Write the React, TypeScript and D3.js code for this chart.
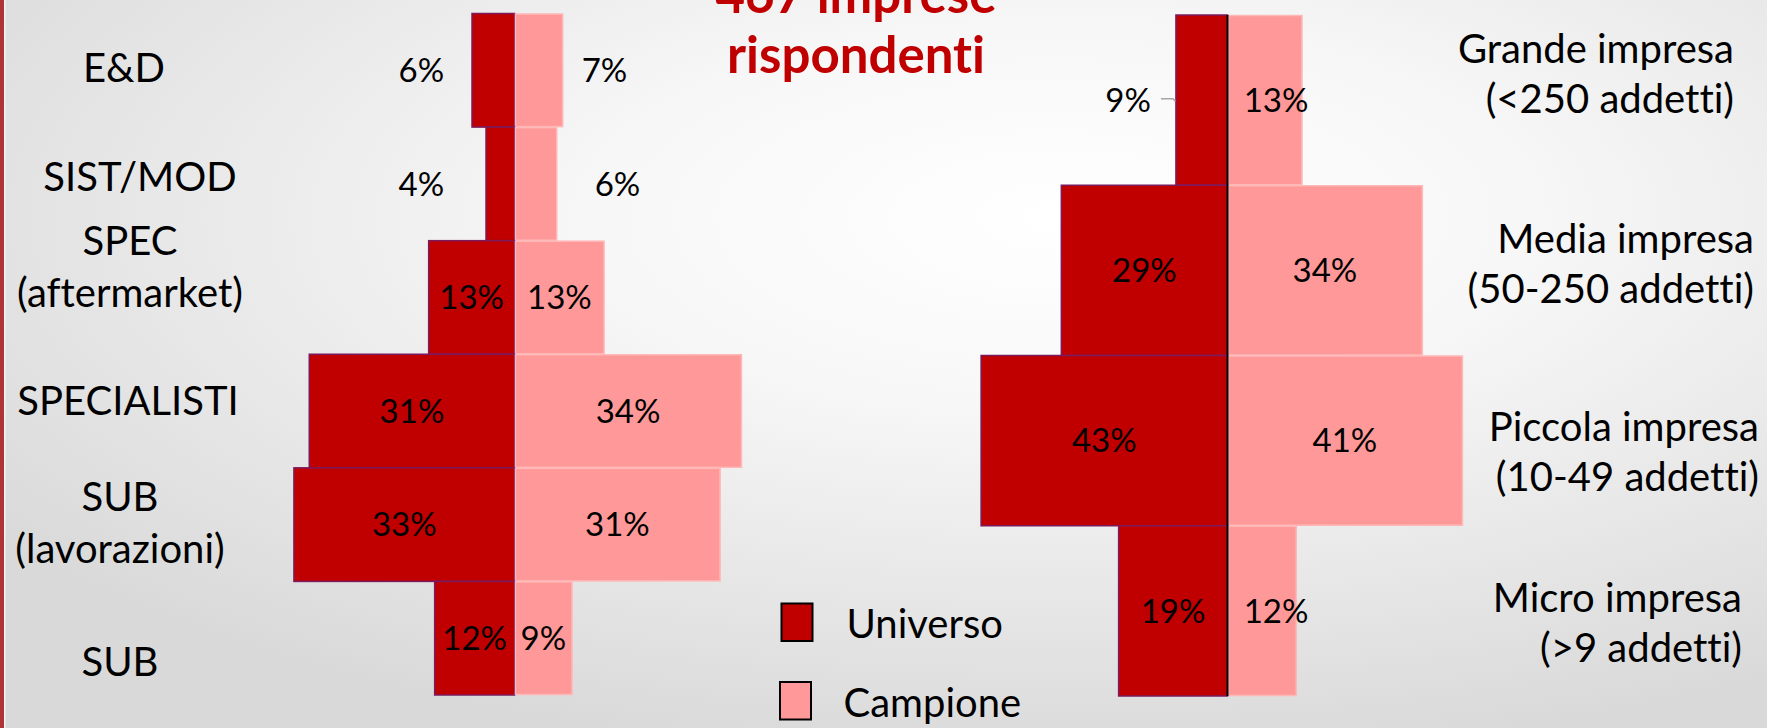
import React from "react";
import * as d3 from "d3";

// ---------- data ----------
const leftCategories = ["E&D", "SIST/MOD", "SPEC (aftermarket)", "SPECIALISTI", "SUB (lavorazioni)", "SUB"];
const leftLabelLines = [["E&D"], ["SIST/MOD"], ["SPEC", "(aftermarket)"], ["SPECIALISTI"], ["SUB", "(lavorazioni)"], ["SUB"]];
const leftUniverso = [6.4, 4.3, 12.9, 30.8, 33.1, 12.0];
const leftCampione = [7.2, 6.3, 13.4, 34.0, 30.8, 8.6];

const rightCategories = ["Grande", "Media", "Piccola", "Micro"];
const rightLabelLines = [
  ["Grande impresa", "(<250 addetti)"],
  ["Media impresa", "(50-250 addetti)"],
  ["Piccola impresa", "(10-49 addetti)"],
  ["Micro impresa", "(>9 addetti)"],
];
const rightUniverso = [9, 29, 43, 19];
const rightCampione = [13, 34, 41, 12];

const seriesNames = ["Universo", "Campione"];
const titleLines = ["467 imprese", "rispondenti"];

// ---------- style / layout ----------
const W = 1767;
const H = 728;
const DARK = "#C00000";
const DARK_STROKE = "#7B1A5C";
const PINK = "#FF9999";
const PINK_STROKE = "#FFB8B8";
const FONT = "Lato, 'Open Sans', sans-serif";
const VAL_FS = 33;
const CAT_FS = 40;

const fmt = (v: number) => `${d3.format(".0f")(v)}%`;

// label layout (offsets from row centre)
const leftCatLayout = [
  { x: 124, dy: [11.5] },
  { x: 140, dy: [7.5] },
  { x: 130, dy: [-42.5, 9.5] },
  { x: 128, dy: [4] },
  { x: 120, dy: [-14, 38] },
  { x: 120, dy: [38] },
];
const rightCatLayout = [
  { x: 1734, dy: [-37, 13] },
  { x: 1754, dy: [-17.5, 32.5] },
  { x: 1759, dy: [0, 50] },
  { x: 1742, dy: [1, 51] },
];

export default function App() {
  // left pyramid scales
  const lCenter = 514.7;
  const xL = d3.scaleLinear().domain([0, 40]).range([0, 266.8]);
  const yL = d3.scaleBand().domain(leftCategories).range([13.5, 695]).padding(0);

  // right pyramid scales
  const rCenter = 1227.5;
  const xR = d3.scaleLinear().domain([0, 50]).range([0, 286.5]);
  const yR = d3.scaleBand().domain(rightCategories).range([15, 696]).padding(0);

  const base = (c: number) => c + VAL_FS * 0.358;

  return (
    <svg
      width={W}
      height={H}
      viewBox={`0 0 ${W} ${H}`}
      style={{ position: "absolute", left: 0, top: 0, display: "block", fontVariantLigatures: "none" }}
      fontFamily={FONT}
    >
      <defs>
        <radialGradient id="bg" cx="0.6" cy="0.3" r="0.75" fx="0.6" fy="0.3">
          <stop offset="0" stopColor="#ffffff" />
          <stop offset="0.35" stopColor="#f7f7f7" />
          <stop offset="1" stopColor="#d9d9d9" />
        </radialGradient>
      </defs>
      <rect x={0} y={0} width={W} height={H} fill="url(#bg)" />
      <rect x={0} y={0} width={4} height={H} fill="#AE3438" />
      <rect x={4} y={0} width={1.5} height={H} fill="#f4f4f4" />

      {/* title (partly cut by the top edge, as in the original slide) */}
      <g fill={DARK} fontWeight={700} fontSize={51} textAnchor="middle">
        {titleLines.map((t, i) => (
          <text key={t} x={856} y={12.7 + i * 60.3}>
            {t}
          </text>
        ))}
      </g>

      {/* left pyramid */}
      <g>
        {leftCategories.map((c, i) => {
          const y0 = yL(c)!;
          const h = yL.bandwidth();
          return (
            <g key={c}>
              <rect
                x={lCenter - xL(leftUniverso[i])}
                y={y0}
                width={xL(leftUniverso[i])}
                height={h}
                fill={DARK}
                stroke={DARK_STROKE}
                strokeWidth={1.5}
              />
              <rect
                x={lCenter + 0.8}
                y={y0 + 0.5}
                width={xL(leftCampione[i]) - 0.8}
                height={h - 1}
                fill={PINK}
                stroke={PINK_STROKE}
                strokeWidth={1.5}
              />
            </g>
          );
        })}
        {leftCategories.map((c, i) => {
          const cy = yL(c)! + yL.bandwidth() / 2;
          const wu = xL(leftUniverso[i]);
          const wc = xL(leftCampione[i]);
          const uOut = wu < 60;
          const cOut = wc < 50;
          const cOutX = [lCenter + 67, lCenter + 80];
          return (
            <g key={c + "lbl"} fontSize={VAL_FS} fill="#000">
              <text
                x={uOut ? lCenter - 70.5 : lCenter - wu / 2}
                y={base(cy)}
                textAnchor={uOut ? "end" : "middle"}
              >
                {fmt(leftUniverso[i])}
              </text>
              <text
                x={cOut ? cOutX[i] : lCenter + wc / 2}
                y={base(cy)}
                textAnchor={cOut ? "start" : "middle"}
              >
                {fmt(leftCampione[i])}
              </text>
            </g>
          );
        })}
        {leftCategories.map((c, i) => {
          const cy = yL(c)! + yL.bandwidth() / 2;
          const lay = leftCatLayout[i];
          return (
            <g key={c + "cat"} fontSize={CAT_FS} fill="#000" textAnchor="middle">
              {leftLabelLines[i].map((l, j) => (
                <text key={l} x={lay.x} y={cy + lay.dy[j]}>
                  {l}
                </text>
              ))}
            </g>
          );
        })}
      </g>

      {/* right pyramid */}
      <g>
        {rightCategories.map((c, i) => {
          const y0 = yR(c)!;
          const h = yR.bandwidth();
          return (
            <g key={c}>
              <rect
                x={rCenter - xR(rightUniverso[i])}
                y={y0}
                width={xR(rightUniverso[i])}
                height={h}
                fill={DARK}
                stroke={DARK_STROKE}
                strokeWidth={1.5}
              />
              <rect
                x={rCenter + 1}
                y={y0 + 0.5}
                width={xR(rightCampione[i]) - 1}
                height={h - 1}
                fill={PINK}
                stroke={PINK_STROKE}
                strokeWidth={1.5}
              />
            </g>
          );
        })}
        <line
          x1={rCenter}
          x2={rCenter}
          y1={yR.range()[0]}
          y2={yR.range()[1]}
          stroke="#000"
          strokeWidth={2}
        />
        {rightCategories.map((c, i) => {
          const cy = yR(c)! + yR.bandwidth() / 2;
          const wu = xR(rightUniverso[i]);
          const wc = xR(rightCampione[i]);
          const uOut = wu < 60;
          const cx = Math.max(rCenter + wc / 2, rCenter + 48.5);
          return (
            <g key={c + "lbl"} fontSize={VAL_FS} fill="#000">
              {uOut ? (
                <>
                  <text x={rCenter - wu - 25} y={base(cy)} textAnchor="end">
                    {fmt(rightUniverso[i])}
                  </text>
                  <path
                    d={`M${rCenter - wu - 15},${cy - 1.5} L${rCenter - wu - 3},${cy - 1.5} L${rCenter - wu - 0.5},${cy + 1}`}
                    fill="none"
                    stroke="#A6A6A6"
                    strokeWidth={1.5}
                  />
                </>
              ) : (
                <text x={rCenter - wu / 2} y={base(cy)} textAnchor="middle">
                  {fmt(rightUniverso[i])}
                </text>
              )}
              <text x={cx} y={base(cy)} textAnchor="middle">
                {fmt(rightCampione[i])}
              </text>
            </g>
          );
        })}
        {rightCategories.map((c, i) => {
          const cy = yR(c)! + yR.bandwidth() / 2;
          const lay = rightCatLayout[i];
          return (
            <g key={c + "cat"} fontSize={CAT_FS} fill="#000" textAnchor="end">
              {rightLabelLines[i].map((l, j) => (
                <text key={l} x={lay.x} y={cy + lay.dy[j]}>
                  {l}
                </text>
              ))}
            </g>
          );
        })}
      </g>

      {/* legend */}
      <g fontSize={CAT_FS} fill="#000">
        {seriesNames.map((s, i) => (
          <g key={s}>
            <rect
              x={781.5 - i * 1.5}
              y={603.5 + i * 78.5}
              width={31}
              height={37.5}
              fill={i === 0 ? DARK : PINK}
              stroke="#000"
              strokeWidth={2}
            />
            <text x={846.5 - i * 3} y={638.3 + i * 78.3}>
              {s}
            </text>
          </g>
        ))}
      </g>
    </svg>
  );
}
